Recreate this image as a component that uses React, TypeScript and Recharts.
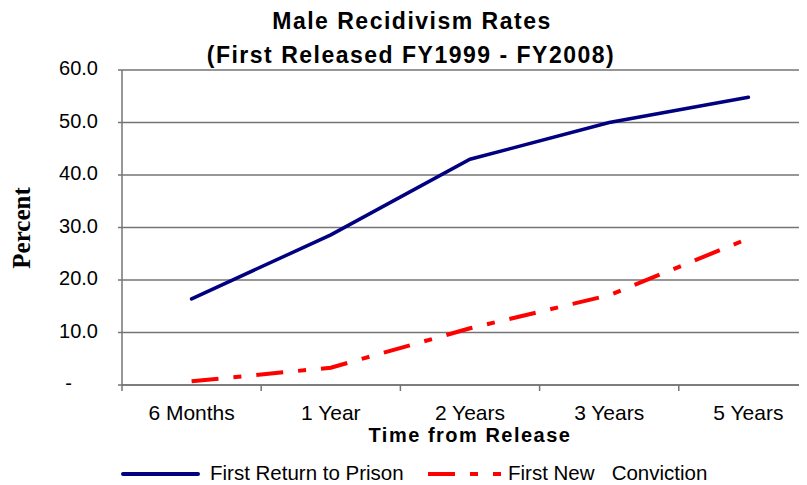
import React from 'react';
import { LineChart, Line, XAxis, YAxis, CartesianGrid } from 'recharts';

const categories = ['6 Months', '1 Year', '2 Years', '3 Years', '5 Years'];
const returnToPrison = [16.4, 28.6, 43.0, 50.0, 54.8];
const newConviction = [0.7, 3.3, 10.8, 17.1, 27.9];
const yTicks = [0, 10, 20, 30, 40, 50, 60];

const titleLine1 = 'Male Recidivism Rates';
const titleLine2 = '(First Released FY1999 - FY2008)';
const xTitle = 'Time from Release';
const yTitle = 'Percent';
const seriesNames = ['First Return to Prison', 'First New   Conviction'];

const data = categories.map((c, i) => ({
  name: c,
  prison: returnToPrison[i],
  conviction: newConviction[i],
}));

const CHART_W = 818;
const CHART_H = 485;
const Y_AXIS_W = 122;
const X_AXIS_H = 100;
const BAND = (CHART_W - Y_AXIS_W) / categories.length;
const SANS = "'Liberation Sans', Arial, sans-serif";
const GRID = '#747474';
const RED_DASH = '27 15 8 15';

const YTick = (p: any) => {
  const v = p.payload.value;
  const y = p.payload.coordinate;
  const x = p.x;
  return (
    <g>
      <line x1={x - 4} x2={x} y1={y} y2={y} stroke={GRID} strokeWidth={1.5} />
      <text
        x={v === 0 ? x - 50 : x - 24}
        y={y + 5}
        textAnchor="end"
        fontFamily={SANS}
        fontSize={20}
        fill="#000"
      >
        {v === 0 ? '-' : v.toFixed(1)}
      </text>
    </g>
  );
};

const XTick = (p: any) => {
  const cx = p.payload.coordinate;
  const y = p.y;
  const bx = cx - BAND / 2;
  return (
    <g>
      <line x1={bx} x2={bx} y1={y} y2={y + 6} stroke={GRID} strokeWidth={1.5} />
      <text x={cx} y={y + 35} textAnchor="middle" fontFamily={SANS} fontSize={21} fill="#000">
        {p.payload.value}
      </text>
    </g>
  );
};

export default function App() {
  return (
    <div
      style={{
        position: 'relative',
        width: 807,
        height: 485,
        overflow: 'hidden',
        margin: '-8px 0 0 -8px',
        background: '#fff',
      }}
    >
      <LineChart
        width={CHART_W}
        height={CHART_H}
        data={data}
        margin={{ top: 70, right: 0, bottom: 0, left: 0 }}
      >
        <CartesianGrid vertical={false} stroke={GRID} strokeWidth={1.5} />
        <XAxis
          dataKey="name"
          scale="band"
          height={X_AXIS_H}
          tickLine={false}
          tickSize={0}
          tickMargin={0}
          axisLine={{ stroke: GRID, strokeWidth: 1.5 }}
          tick={XTick}
          interval={0}
        />
        <YAxis
          width={Y_AXIS_W}
          domain={[0, 60]}
          ticks={yTicks}
          tickLine={false}
          tickSize={0}
          tickMargin={0}
          axisLine={{ stroke: GRID, strokeWidth: 1.5 }}
          tick={YTick}
          interval={0}
        />
        <Line
          type="linear"
          dataKey="prison"
          stroke="#000080"
          strokeWidth={3.5}
          strokeLinecap="round"
          dot={false}
          isAnimationActive={false}
        />
        <Line
          type="linear"
          dataKey="conviction"
          stroke="#FF0000"
          strokeWidth={4}
          strokeDasharray={RED_DASH}
          dot={false}
          isAnimationActive={false}
        />
      </LineChart>
      <svg
        width={807}
        height={485}
        style={{ position: 'absolute', left: 0, top: 0, pointerEvents: 'none' }}
      >
        <text x={412} y={29} textAnchor="middle" fontFamily={SANS} fontWeight="bold" fontSize={23} letterSpacing={1.5}>
          {titleLine1}
        </text>
        <text x={411} y={63} textAnchor="middle" fontFamily={SANS} fontWeight="bold" fontSize={23} letterSpacing={1.5}>
          {titleLine2}
        </text>
        <text x={470} y={442} textAnchor="middle" fontFamily={SANS} fontWeight="bold" fontSize={20} letterSpacing={1.5}>
          {xTitle}
        </text>
        <text
          transform="translate(30,228) rotate(-90)"
          textAnchor="middle"
          fontFamily="'Liberation Serif', 'Times New Roman', serif"
          fontWeight="bold"
          fontSize={25}
        >
          {yTitle}
        </text>
        <line x1={123} x2={198} y1={474} y2={474} stroke="#000080" strokeWidth={4} strokeLinecap="round" />
        <text x={210} y={480} fontFamily={SANS} fontSize={20.5} style={{ whiteSpace: 'pre' }}>
          {seriesNames[0]}
        </text>
        <line x1={428} x2={501} y1={474} y2={474} stroke="#FF0000" strokeWidth={4} strokeDasharray={RED_DASH} />
        <text x={508} y={480} fontFamily={SANS} fontSize={20.5} style={{ whiteSpace: 'pre' }}>
          {seriesNames[1]}
        </text>
      </svg>
    </div>
  );
}
